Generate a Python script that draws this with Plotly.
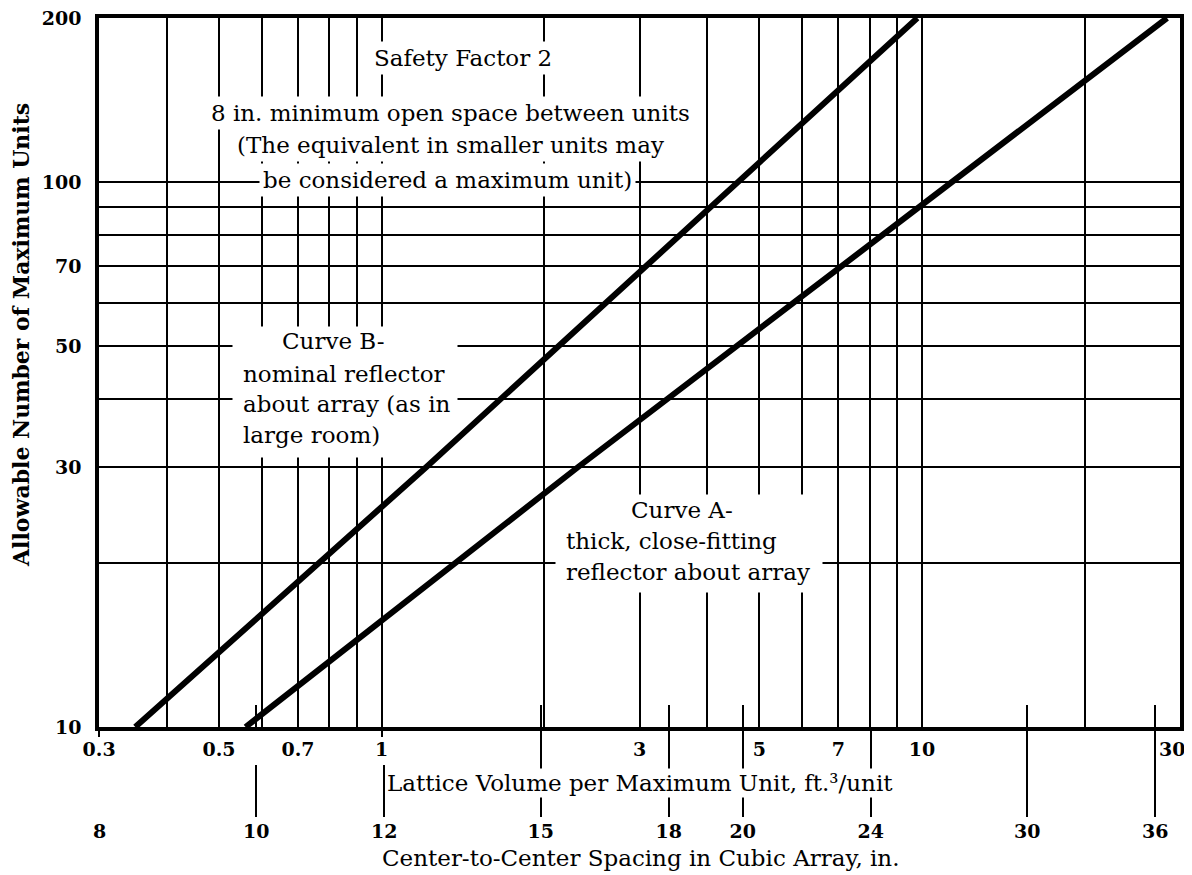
import math
import plotly.graph_objects as go

# ---------------- data ----------------
lattice_volume_ticks = [0.3, 0.4, 0.5, 0.6, 0.7, 0.8, 0.9, 1, 2, 3, 4, 5, 6, 7, 8, 9, 10, 20, 30]
lattice_volume_labels = ["0.3", "", "0.5", "", "0.7", "", "", "1", "", "3", "", "5", "", "7", "", "", "10", "", "30"]
lattice_small_ticks = [0.3, 1]
units_ticks = [10, 20, 30, 40, 50, 60, 70, 80, 90, 100, 200]
units_labels = ["10", "", "30", "", "50", "", "70", "", "", "100", "200"]
spacing_in = [8, 10, 12, 15, 18, 20, 24, 30, 36]
spacing_inner_ticks = [10, 15, 18, 20, 30, 36]
spacing_outer_ticks = [15, 18, 20, 24, 30, 36]

curve_a_volume = [0.56, 2.31, 28.4]
curve_a_units = [10, 30, 200]
curve_b_volume = [0.35, 1.21, 9.8]
curve_b_units = [10, 30, 200]

CUBIC_IN_PER_FT3 = 1728.0


def spacing_to_volume(s):
    return s ** 3 / CUBIC_IN_PER_FT3


# ---------------- layout geometry ----------------
# the page body adds an 8 px offset, so the figure is drawn 8 px smaller
OFF = 8
W, H = 1192 - OFF, 875 - OFF
ML, MR, MT, MB = 99 - OFF, 12, 18 - OFF, 30
PLOT_BOTTOM = 727            # in screen pixels
PW = W - ML - MR
PH = H - MT - MB


def px(xpix):                # screen pixel -> paper x
    return (xpix - OFF - ML) / PW


def py(ypix):                # screen pixel -> paper y
    return (H - MB - (ypix - OFF)) / PH


FONT = "DejaVu Serif"
XR = [math.log10(0.2999), math.log10(30.01)]
XR2 = [math.log10(0.2955), math.log10(30.01)]
YR = [math.log10(10), math.log10(200)]
TICKFONT = dict(family=FONT, size=19, color="black", weight="bold")

# the last label sits against the right border; it is written just inside the page
edge_label = lattice_volume_labels[-1]
axis_labels = lattice_volume_labels[:-1] + [""]

fig = go.Figure()
fig.add_trace(go.Scatter(x=curve_b_volume, y=curve_b_units, mode="lines",
                         line=dict(color="black", width=6), showlegend=False, hoverinfo="skip"))
fig.add_trace(go.Scatter(x=curve_a_volume, y=curve_a_units, mode="lines",
                         line=dict(color="black", width=6), showlegend=False, hoverinfo="skip"))
for ax in ["x2", "x3", "x4", "x5"]:
    fig.add_trace(go.Scatter(x=[], y=[], xaxis=ax, yaxis="y", showlegend=False, hoverinfo="skip"))

common_extra = dict(type="log", range=XR2, overlaying="x", showgrid=False, zeroline=False,
                    showline=False, tickcolor="black", tickwidth=2, side="bottom")

fig.update_layout(
    width=W, height=H,
    margin=dict(l=ML, r=MR, t=MT, b=MB, autoexpand=False),
    paper_bgcolor="white", plot_bgcolor="white",
    showlegend=False,
    font=dict(family=FONT, color="black"),
    xaxis=dict(type="log", range=XR, domain=[0, 1], anchor="y",
               tickmode="array", tickvals=lattice_volume_ticks, ticktext=axis_labels,
               showgrid=True, gridcolor="black", gridwidth=2, zeroline=False,
               showline=True, linecolor="black", linewidth=3.5, mirror=True,
               ticks="", ticklabelstandoff=2, ticklabeloverflow="allow",
               tickfont=TICKFONT),
    yaxis=dict(type="log", range=YR, domain=[py(PLOT_BOTTOM), 1], anchor="x",
               tickmode="array", tickvals=units_ticks, ticktext=units_labels,
               showgrid=True, gridcolor="black", gridwidth=2, zeroline=False,
               showline=True, linecolor="black", linewidth=3.5, mirror=True,
               ticks="", ticklabelstandoff=10, ticklabeloverflow="allow",
               tickfont=TICKFONT),
    xaxis2=dict(common_extra, anchor="free", position=py(817),
                tickmode="array", tickvals=[spacing_to_volume(s) for s in spacing_in],
                ticktext=[str(s) for s in spacing_in],
                ticks="inside", ticklen=52, ticklabelstandoff=1, ticklabeloverflow="allow",
                tickfont=TICKFONT),
    xaxis3=dict(common_extra, anchor="y",
                tickmode="array", tickvals=[spacing_to_volume(s) for s in spacing_outer_ticks],
                ticks="outside", ticklen=38, showticklabels=False),
    xaxis4=dict(common_extra, anchor="y",
                tickmode="array", tickvals=[spacing_to_volume(s) for s in spacing_inner_ticks],
                ticks="inside", ticklen=22, showticklabels=False),
    xaxis5=dict(common_extra, range=XR, anchor="y",
                tickmode="array", tickvals=lattice_small_ticks,
                ticks="outside", ticklen=9, showticklabels=False),
)

TXT = dict(family=FONT, size=23, color="black")


def mask(x0, x1, y0, y1):
    fig.add_annotation(text=" ", xref="paper", yref="paper",
                       x=px((x0 + x1) / 2), y=py((y0 + y1) / 2),
                       xanchor="center", yanchor="middle", showarrow=False,
                       width=x1 - x0, height=y1 - y0, borderpad=0,
                       bgcolor="white", font=dict(size=4))


def note(text, x, y, xanchor="center", bg=None, font=TXT, angle=0, pad=3):
    fig.add_annotation(text=text, xref="paper", yref="paper", x=px(x), y=py(y),
                       xanchor=xanchor, yanchor="middle", showarrow=False,
                       font=font, textangle=angle,
                       bgcolor=bg if bg else "rgba(0,0,0,0)", borderpad=pad)


# white masks that break the grid around the curve labels
mask(233, 457, 327, 425)
mask(233, 405, 425, 457)
mask(556, 822, 495, 592)

# top block
note("Safety Factor 2", 463, 58, bg="white")
note("8 in. minimum open space between units", 450, 113, bg="white")
note("(The equivalent in smaller units may", 450, 145, bg="white")
note("be considered a maximum unit)", 447, 180, bg="white")

# curve B label
note("Curve B-", 333, 341)
note("nominal reflector", 239, 374, xanchor="left")
note("about array (as in", 239, 404, xanchor="left")
note("large room)", 239, 435, xanchor="left")

# curve A label
note("Curve A-", 682, 510)
note("thick, close-fitting", 562, 541, xanchor="left")
note("reflector about array", 562, 572, xanchor="left")

# last x tick label, tied to the x scale
fig.add_annotation(text=edge_label, xref="x", yref="paper",
                   x=math.log10(lattice_volume_ticks[-1]), y=py(749),
                   xanchor="center", yanchor="middle", xshift=-8, showarrow=False,
                   font=TICKFONT, borderpad=0)

# axis titles
note("Lattice Volume per Maximum Unit, ft.³/unit", 640, 783, bg="white",
     font=dict(family=FONT, size=23, color="black"), pad=1)
note("Center-to-Center Spacing in Cubic Array, in.", 640, 858,
     font=dict(family=FONT, size=23, color="black"), pad=0)
note("Allowable Number of Maximum Units", 21, 335,
     font=dict(family=FONT, size=22, color="black", weight="bold"), angle=-90, pad=0)

fig.write_html("out.html")
